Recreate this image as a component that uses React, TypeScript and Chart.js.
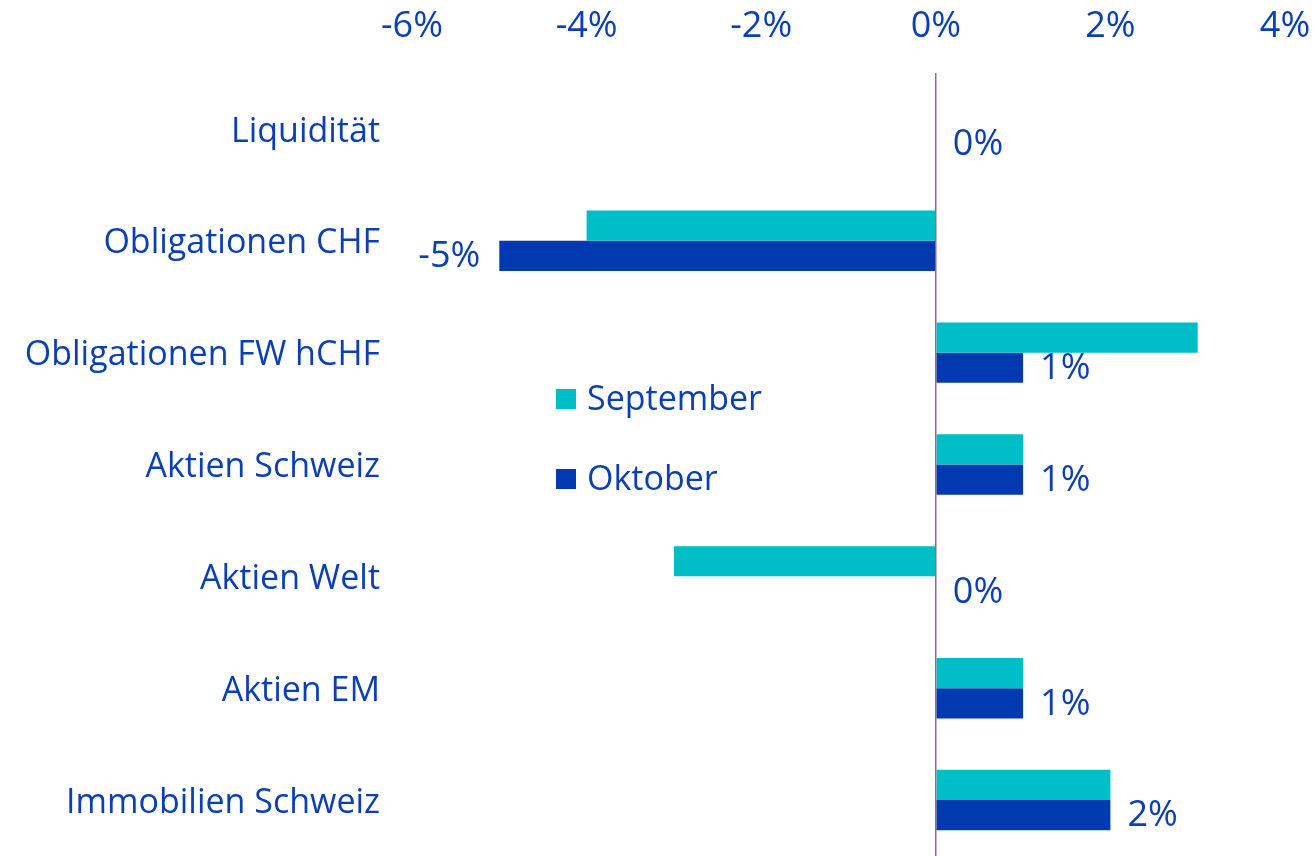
import React, { useEffect, useRef } from "react";
import { Chart, registerables } from "chart.js";

Chart.register(...registerables);

const categories = [
  "Liquidität",
  "Obligationen CHF",
  "Obligationen FW hCHF",
  "Aktien Schweiz",
  "Aktien Welt",
  "Aktien EM",
  "Immobilien Schweiz",
];
const septemberValues = [0, -4, 3, 1, -3, 1, 2];
const oktoberValues = [0, -5, 1, 1, 0, 1, 2];
const seriesNames = ["September", "Oktober"];
const xTicks = [-6, -4, -2, 0, 2, 4];

const TEXT = "#0B3FB5";
const CYAN = "#00BEC7";
const BLUE = "#0039B0";
const FONT = "'Open Sans', 'Noto Sans', sans-serif";

const labelPlugin = {
  id: "okLabels",
  afterDatasetsDraw(chart: any) {
    const ctx = chart.ctx;
    const meta = chart.getDatasetMeta(1);
    ctx.save();
    ctx.font = `36px ${FONT}`;
    ctx.fillStyle = TEXT;
    ctx.textBaseline = "middle";
    meta.data.forEach((bar: any, i: number) => {
      const v = oktoberValues[i];
      const txt = `${v}%`;
      if (v < 0) {
        ctx.textAlign = "right";
        ctx.fillText(txt, bar.x - 19, bar.y + 1);
      } else {
        ctx.textAlign = "left";
        ctx.fillText(txt, bar.x + 17, bar.y + 1);
      }
    });
    ctx.restore();
  },
};

const legendPlugin = {
  id: "innerLegend",
  afterDraw(chart: any) {
    const ctx = chart.ctx;
    const colors = [CYAN, BLUE];
    ctx.save();
    ctx.font = `34px ${FONT}`;
    ctx.textBaseline = "middle";
    ctx.textAlign = "left";
    seriesNames.forEach((name, i) => {
      const y = 399 + i * 80;
      ctx.fillStyle = colors[i];
      ctx.fillRect(556, y - 10, 20, 20);
      ctx.fillStyle = TEXT;
      ctx.fillText(name, 587, y + 1);
    });
    ctx.restore();
  },
};

export default function App() {
  const ref = useRef<HTMLCanvasElement>(null);
  useEffect(() => {
    document.body.style.margin = "0";
    const chart = new Chart(ref.current!, {
      type: "bar",
      data: {
        labels: categories,
        datasets: [
          { label: seriesNames[0], data: septemberValues, backgroundColor: CYAN, categoryPercentage: 0.54, barPercentage: 1.0 },
          { label: seriesNames[1], data: oktoberValues, backgroundColor: BLUE, categoryPercentage: 0.54, barPercentage: 1.0 },
        ],
      },
      options: {
        indexAxis: "y",
        animation: false,
        responsive: false,
        maintainAspectRatio: false,
        layout: { padding: { left: 0, right: 31, top: 0, bottom: 0 } },
        plugins: {
          legend: { display: false },
          tooltip: { enabled: false },
        },
        scales: {
          x: {
            position: "top",
            min: -6,
            max: 4,
            afterBuildTicks: (scale: any) => {
              scale.ticks = xTicks.map((v) => ({ value: v }));
            },
            afterFit: (scale: any) => {
              scale.height = 73;
              scale.paddingLeft = 0;
              scale.paddingRight = 0;
            },
            ticks: {
              color: TEXT,
              font: { family: FONT, size: 36 },
              padding: 25,
              callback: (v: any) => `${v}%`,
              maxRotation: 0,
            },
            grid: {
              drawTicks: false,
              color: (c: any) => (c.tick && c.tick.value === 0 ? "#9A6497" : "rgba(0,0,0,0)"),
              lineWidth: 1.5,
            },
            border: { display: false },
          },
          y: {
            afterFit: (scale: any) => {
              scale.width = 412;
              scale.paddingTop = 0;
              scale.paddingBottom = 0;
            },
            ticks: {
              color: TEXT,
              font: { family: FONT, size: 34 },
              padding: 32,
              labelOffset: 3,
            },
            grid: { display: false, drawTicks: false },
            border: { display: false },
          },
        },
      },
      plugins: [labelPlugin, legendPlugin],
    } as any);
    return () => chart.destroy();
  }, []);
  return (
    <div style={{ width: 1316, height: 856 }}>
      <canvas ref={ref} width={1316} height={856} />
    </div>
  );
}
